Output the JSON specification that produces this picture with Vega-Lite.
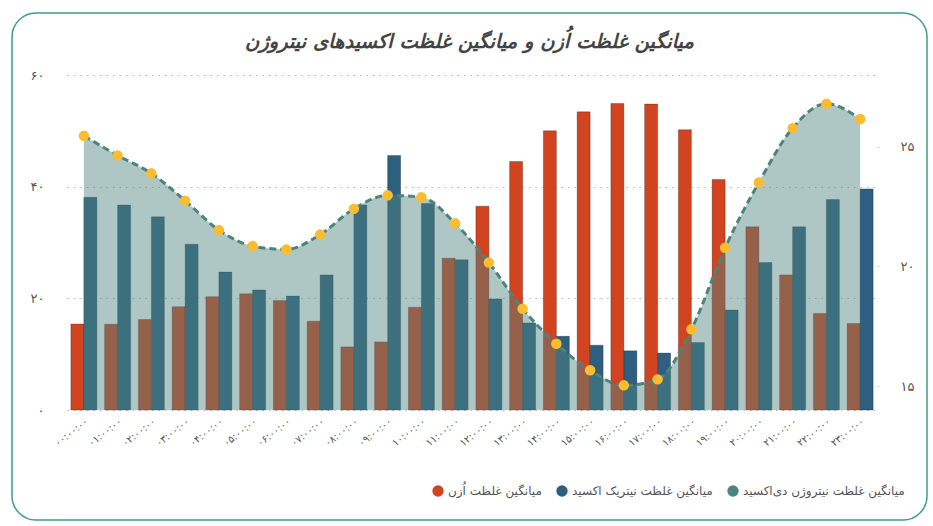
{
  "$schema": "https://vega.github.io/schema/vega-lite/v6.json",
  "width": 915,
  "height": 507,
  "autosize": {"type": "none"},
  "padding": {"left": 12, "top": 13, "right": 6, "bottom": 6},
  "background": "white",
  "config": {"view": {"stroke": "#3f9c8e", "strokeWidth": 1.5, "cornerRadius": 24, "fill": "white"}, "font": "DejaVu Sans"},
  "title": {"text": "میانگین غلظت اُزن و میانگین غلظت اکسیدهای نیتروژن", "fontSize": 19.5, "fontWeight": "bold", "fontStyle": "italic", "color": "#444444", "offset": -39, "anchor": "middle"},
  "datasets": {
    "bars": [
      {"hour": "۰۰:۰۰:۰۰", "series": "میانگین غلظت اُزن", "value": 15.4},
      {"hour": "۰۰:۰۰:۰۰", "series": "میانگین غلظت نیتریک اکسید", "value": 38.1},
      {"hour": "۰۱:۰۰:۰۰", "series": "میانگین غلظت اُزن", "value": 15.35},
      {"hour": "۰۱:۰۰:۰۰", "series": "میانگین غلظت نیتریک اکسید", "value": 36.7},
      {"hour": "۰۲:۰۰:۰۰", "series": "میانگین غلظت اُزن", "value": 16.2},
      {"hour": "۰۲:۰۰:۰۰", "series": "میانگین غلظت نیتریک اکسید", "value": 34.6},
      {"hour": "۰۳:۰۰:۰۰", "series": "میانگین غلظت اُزن", "value": 18.5},
      {"hour": "۰۳:۰۰:۰۰", "series": "میانگین غلظت نیتریک اکسید", "value": 29.7},
      {"hour": "۰۴:۰۰:۰۰", "series": "میانگین غلظت اُزن", "value": 20.3},
      {"hour": "۰۴:۰۰:۰۰", "series": "میانگین غلظت نیتریک اکسید", "value": 24.7},
      {"hour": "۰۵:۰۰:۰۰", "series": "میانگین غلظت اُزن", "value": 20.8},
      {"hour": "۰۵:۰۰:۰۰", "series": "میانگین غلظت نیتریک اکسید", "value": 21.5},
      {"hour": "۰۶:۰۰:۰۰", "series": "میانگین غلظت اُزن", "value": 19.6},
      {"hour": "۰۶:۰۰:۰۰", "series": "میانگین غلظت نیتریک اکسید", "value": 20.4},
      {"hour": "۰۷:۰۰:۰۰", "series": "میانگین غلظت اُزن", "value": 15.9},
      {"hour": "۰۷:۰۰:۰۰", "series": "میانگین غلظت نیتریک اکسید", "value": 24.2},
      {"hour": "۰۸:۰۰:۰۰", "series": "میانگین غلظت اُزن", "value": 11.3},
      {"hour": "۰۸:۰۰:۰۰", "series": "میانگین غلظت نیتریک اکسید", "value": 36.7},
      {"hour": "۰۹:۰۰:۰۰", "series": "میانگین غلظت اُزن", "value": 12.2},
      {"hour": "۰۹:۰۰:۰۰", "series": "میانگین غلظت نیتریک اکسید", "value": 45.6},
      {"hour": "۱۰:۰۰:۰۰", "series": "میانگین غلظت اُزن", "value": 18.4},
      {"hour": "۱۰:۰۰:۰۰", "series": "میانگین غلظت نیتریک اکسید", "value": 37.0},
      {"hour": "۱۱:۰۰:۰۰", "series": "میانگین غلظت اُزن", "value": 27.2},
      {"hour": "۱۱:۰۰:۰۰", "series": "میانگین غلظت نیتریک اکسید", "value": 26.9},
      {"hour": "۱۲:۰۰:۰۰", "series": "میانگین غلظت اُزن", "value": 36.5},
      {"hour": "۱۲:۰۰:۰۰", "series": "میانگین غلظت نیتریک اکسید", "value": 19.9},
      {"hour": "۱۳:۰۰:۰۰", "series": "میانگین غلظت اُزن", "value": 44.5},
      {"hour": "۱۳:۰۰:۰۰", "series": "میانگین غلظت نیتریک اکسید", "value": 15.6},
      {"hour": "۱۴:۰۰:۰۰", "series": "میانگین غلظت اُزن", "value": 50.0},
      {"hour": "۱۴:۰۰:۰۰", "series": "میانگین غلظت نیتریک اکسید", "value": 13.2},
      {"hour": "۱۵:۰۰:۰۰", "series": "میانگین غلظت اُزن", "value": 53.4},
      {"hour": "۱۵:۰۰:۰۰", "series": "میانگین غلظت نیتریک اکسید", "value": 11.6},
      {"hour": "۱۶:۰۰:۰۰", "series": "میانگین غلظت اُزن", "value": 54.9},
      {"hour": "۱۶:۰۰:۰۰", "series": "میانگین غلظت نیتریک اکسید", "value": 10.6},
      {"hour": "۱۷:۰۰:۰۰", "series": "میانگین غلظت اُزن", "value": 54.8},
      {"hour": "۱۷:۰۰:۰۰", "series": "میانگین غلظت نیتریک اکسید", "value": 10.2},
      {"hour": "۱۸:۰۰:۰۰", "series": "میانگین غلظت اُزن", "value": 50.2},
      {"hour": "۱۸:۰۰:۰۰", "series": "میانگین غلظت نیتریک اکسید", "value": 12.1},
      {"hour": "۱۹:۰۰:۰۰", "series": "میانگین غلظت اُزن", "value": 41.3},
      {"hour": "۱۹:۰۰:۰۰", "series": "میانگین غلظت نیتریک اکسید", "value": 17.9},
      {"hour": "۲۰:۰۰:۰۰", "series": "میانگین غلظت اُزن", "value": 32.8},
      {"hour": "۲۰:۰۰:۰۰", "series": "میانگین غلظت نیتریک اکسید", "value": 26.4},
      {"hour": "۲۱:۰۰:۰۰", "series": "میانگین غلظت اُزن", "value": 24.2},
      {"hour": "۲۱:۰۰:۰۰", "series": "میانگین غلظت نیتریک اکسید", "value": 32.8},
      {"hour": "۲۲:۰۰:۰۰", "series": "میانگین غلظت اُزن", "value": 17.3},
      {"hour": "۲۲:۰۰:۰۰", "series": "میانگین غلظت نیتریک اکسید", "value": 37.7},
      {"hour": "۲۳:۰۰:۰۰", "series": "میانگین غلظت اُزن", "value": 15.5},
      {"hour": "۲۳:۰۰:۰۰", "series": "میانگین غلظت نیتریک اکسید", "value": 39.6}
    ],
    "no2": [
      {"hour": "۰۰:۰۰:۰۰", "series": "میانگین غلظت نیتروژن دی‌اکسید", "value": 25.46},
      {"hour": "۰۱:۰۰:۰۰", "series": "میانگین غلظت نیتروژن دی‌اکسید", "value": 24.64},
      {"hour": "۰۲:۰۰:۰۰", "series": "میانگین غلظت نیتروژن دی‌اکسید", "value": 23.89},
      {"hour": "۰۳:۰۰:۰۰", "series": "میانگین غلظت نیتروژن دی‌اکسید", "value": 22.75},
      {"hour": "۰۴:۰۰:۰۰", "series": "میانگین غلظت نیتروژن دی‌اکسید", "value": 21.52},
      {"hour": "۰۵:۰۰:۰۰", "series": "میانگین غلظت نیتروژن دی‌اکسید", "value": 20.85},
      {"hour": "۰۶:۰۰:۰۰", "series": "میانگین غلظت نیتروژن دی‌اکسید", "value": 20.71},
      {"hour": "۰۷:۰۰:۰۰", "series": "میانگین غلظت نیتروژن دی‌اکسید", "value": 21.33},
      {"hour": "۰۸:۰۰:۰۰", "series": "میانگین غلظت نیتروژن دی‌اکسید", "value": 22.41},
      {"hour": "۰۹:۰۰:۰۰", "series": "میانگین غلظت نیتروژن دی‌اکسید", "value": 22.97},
      {"hour": "۱۰:۰۰:۰۰", "series": "میانگین غلظت نیتروژن دی‌اکسید", "value": 22.89},
      {"hour": "۱۱:۰۰:۰۰", "series": "میانگین غلظت نیتروژن دی‌اکسید", "value": 21.80},
      {"hour": "۱۲:۰۰:۰۰", "series": "میانگین غلظت نیتروژن دی‌اکسید", "value": 20.16},
      {"hour": "۱۳:۰۰:۰۰", "series": "میانگین غلظت نیتروژن دی‌اکسید", "value": 18.23},
      {"hour": "۱۴:۰۰:۰۰", "series": "میانگین غلظت نیتروژن دی‌اکسید", "value": 16.77},
      {"hour": "۱۵:۰۰:۰۰", "series": "میانگین غلظت نیتروژن دی‌اکسید", "value": 15.66},
      {"hour": "۱۶:۰۰:۰۰", "series": "میانگین غلظت نیتروژن دی‌اکسید", "value": 15.03},
      {"hour": "۱۷:۰۰:۰۰", "series": "میانگین غلظت نیتروژن دی‌اکسید", "value": 15.28},
      {"hour": "۱۸:۰۰:۰۰", "series": "میانگین غلظت نیتروژن دی‌اکسید", "value": 17.37},
      {"hour": "۱۹:۰۰:۰۰", "series": "میانگین غلظت نیتروژن دی‌اکسید", "value": 20.78},
      {"hour": "۲۰:۰۰:۰۰", "series": "میانگین غلظت نیتروژن دی‌اکسید", "value": 23.51},
      {"hour": "۲۱:۰۰:۰۰", "series": "میانگین غلظت نیتروژن دی‌اکسید", "value": 25.78},
      {"hour": "۲۲:۰۰:۰۰", "series": "میانگین غلظت نیتروژن دی‌اکسید", "value": 26.80},
      {"hour": "۲۳:۰۰:۰۰", "series": "میانگین غلظت نیتروژن دی‌اکسید", "value": 26.16}
    ]
  },
  "encoding": {
    "x": {
      "field": "hour",
      "type": "nominal",
      "scale": {"range": [55, 865], "paddingInner": 0.23, "paddingOuter": 0.115},
      "axis": {"title": null, "offset": -110, "labelAngle": -38, "labelFontSize": 10, "labelColor": "#555555", "domain": false, "ticks": false, "labelPadding": 6}
    }
  },
  "layer": [
    {
      "data": {"name": "bars"},
      "mark": {"type": "bar", "stroke": "#000000", "strokeOpacity": 0.25, "strokeWidth": 1},
      "encoding": {
        "xOffset": {"field": "series", "type": "nominal", "scale": {"domain": ["میانگین غلظت اُزن", "میانگین غلظت نیتریک اکسید"], "paddingInner": 0, "paddingOuter": 0}},
        "y": {
          "field": "value",
          "type": "quantitative",
          "scale": {"domain": [0, 60], "range": [397, 62]},
          "axis": {"title": null, "orient": "left", "offset": -55, "values": [0, 20, 40, 60], "labelExpr": "datum.value == 0 ? '۰' : datum.value == 20 ? '۲۰' : datum.value == 40 ? '۴۰' : '۶۰'", "grid": true, "gridDash": [1.5, 5], "gridColor": "#b5b5b5", "gridWidth": 1, "domain": false, "ticks": false, "labelPadding": 23, "labelFontSize": 13, "labelColor": "#555555"}
        },
        "color": {
          "field": "series",
          "type": "nominal",
          "scale": {"domain": ["میانگین غلظت اُزن", "میانگین غلظت نیتریک اکسید", "میانگین غلظت نیتروژن دی‌اکسید"], "range": ["#d2431f", "#2e5f7f", "#4e8480"]},
          "legend": {"title": null, "orient": "none", "legendX": 420, "legendY": 472, "direction": "horizontal", "symbolType": "circle", "symbolSize": 130, "symbolOpacity": 1, "symbolStrokeWidth": 0, "labelFontSize": 12, "labelColor": "#555555", "columnPadding": 14, "labelLimit": 250}
        }
      }
    },
    {
      "data": {"name": "no2"},
      "encoding": {
        "y": {
          "field": "value",
          "type": "quantitative",
          "scale": {"domain": [14, 28], "zero": false, "range": [397, 62]},
          "axis": {"title": null, "orient": "right", "offset": -50, "values": [15, 20, 25], "labelExpr": "datum.value == 15 ? '۱۵' : datum.value == 20 ? '۲۰' : '۲۵'", "grid": false, "domain": false, "ticks": true, "tickSize": 2, "tickColor": "#cccccc", "labelAlign": "left", "labelPadding": 21, "labelFontSize": 13, "labelColor": "#555555"}
        }
      },
      "layer": [
        {
          "mark": {"type": "area", "interpolate": "monotone", "fillOpacity": 0.46},
          "encoding": {"y2": {"datum": 14}, "color": {"field": "series", "type": "nominal"}}
        },
        {
          "mark": {"type": "line", "interpolate": "monotone", "strokeDash": [7, 4], "strokeWidth": 3, "color": "#4a847c"},
          "encoding": {}
        },
        {
          "mark": {"type": "point", "filled": true, "size": 110, "color": "#fbbd2f", "opacity": 1},
          "encoding": {}
        }
      ]
    }
  ],
  "resolve": {"scale": {"y": "independent"}}
}
